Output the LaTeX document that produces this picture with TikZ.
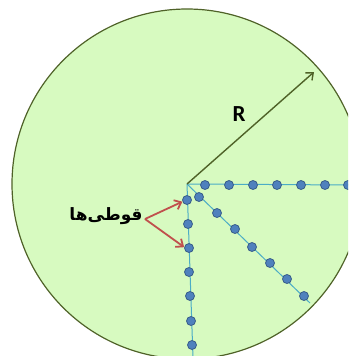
\documentclass[tikz,border=0pt]{standalone}
\usepackage{fontspec}
\setmainfont{Carlito}
\newfontfamily\arabicfont[Script=Arabic]{DejaVu Sans}
\TeXXeTstate=1
\usetikzlibrary{arrows.meta}
\definecolor{diskfill}{RGB}{215,250,192}
\definecolor{diskline}{RGB}{79,98,40}
\definecolor{canfill}{RGB}{79,129,189}
\definecolor{canline}{RGB}{56,93,138}
\definecolor{rayline}{RGB}{75,172,198}
\definecolor{pointer}{RGB}{192,80,77}

\begin{document}
\begin{tikzpicture}[x=1pt,y=-1pt,>={Straight Barb[length=6pt,width=10pt]},
    can/.style={circle,draw=canline,fill=canfill,line width=0.8pt,minimum size=9pt,inner sep=0pt},
    ray/.style={draw=rayline,line width=1pt}]
                \useasboundingbox (0,0) rectangle (348,356);
                \clip (0,0) rectangle (348,356);
                \coordinate (c) at (187,184);
                \draw[fill=diskfill,draw=diskline,line width=1.2pt] (c) circle[radius=175];

                % three rows of cans
                \coordinate (hend) at (352,185);
                \coordinate (dend) at (310,303);
                \coordinate (vend) at (193,358);
                \draw[ray] (c) -- (hend);
                \draw[ray] (c) -- (dend);
                \draw[ray] (c) -- (vend);

                \node[can] (h1) at (205,185) {};
                \node[can] (h2) at (229,185) {};
                \node[can] (h3) at (253,185) {};
                \node[can] (h4) at (277,185) {};
                \node[can] (h5) at (301,185) {};
                \node[can] (h6) at (325,185) {};
                \node[can] (h7) at (348,185) {};

                \node[can] (d1) at (199,197) {};
                \node[can] (d2) at (217,213) {};
                \node[can] (d3) at (235,229) {};
                \node[can] (d4) at (252,247) {};
                \node[can] (d5) at (270,263) {};
                \node[can] (d6) at (287,279) {};
                \node[can] (d7) at (304,296) {};

                \node[can] (v1) at (187,200) {};
                \node[can] (v2) at (188,224) {};
                \node[can] (v3) at (189,248) {};
                \node[can] (v4) at (189,272) {};
                \node[can] (v5) at (190,296) {};
                \node[can] (v6) at (191,321) {};
                \node[can] (v7) at (192,345) {};

                % radius
                \coordinate (rend) at (314,72);
                \draw[->,diskline,line width=1.4pt] (c) -- (rend);
                \node[font=\bfseries\fontsize{23}{25}\selectfont] (rlabel) at (239,114) {R};

                % label and pointers
                \node[font=\arabicfont\bfseries\fontsize{17}{20}\selectfont] (cans) at (106,216) {\beginR قوطی‌ها\endR};
                \coordinate (fork) at (145,219);
                \draw[->,pointer,line width=1.8pt] (fork) -- (v1.200);
                \draw[->,pointer,line width=1.8pt] (fork) -- (v3.170);
            \end{tikzpicture}
\end{document}
